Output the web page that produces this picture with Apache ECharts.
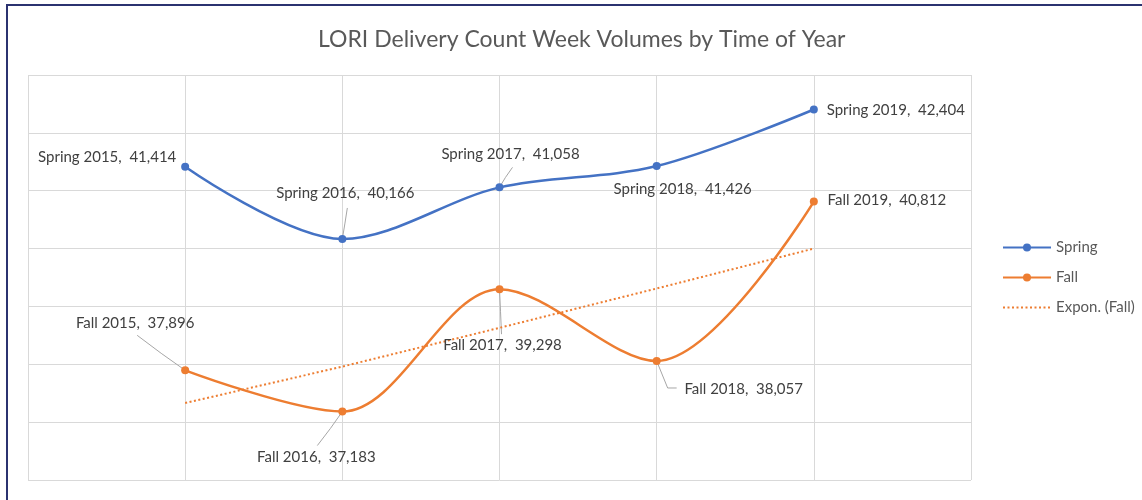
<!DOCTYPE html>
<html><head><meta charset="utf-8">
<script src="https://cdn.jsdelivr.net/npm/echarts@6/dist/echarts.min.js"></script>
<style>html,body{margin:0;padding:0;background:#fff}#c{width:1142px;height:500px}</style>
</head><body><div id="c"></div>
<script>
const titleText = 'LORI Delivery Count Week Volumes by Time of Year';
const years = ['2015', '2016', '2017', '2018', '2019'];
const xPositions = [1, 2, 3, 4, 5];
const springValues = [41414, 40166, 41058, 41426, 42404];
const fallValues = [37896, 37183, 39298, 38057, 40812];
const trendFallValues = [37330, 37960, 38630, 39310, 40000];
const yTicks = [36000, 37000, 38000, 39000, 40000, 41000, 42000, 43000];

// label center offsets from the point (px)
const springLabelOffsets = [[-78, -10], [3, -46], [11, -33], [26, 23], [82, 1]];
const fallLabelOffsets = [[-50, -47], [-26, 46], [3, 56], [87, 28], [73, -1]];
// leader line bend / end offsets from the point (px); null = no leader
const springLeaders = [null, [[2.5, -15], [5, -31]], [[6, -10], [13, -20]], null, null];
const fallLeaders = [[[-24, -17], [-48, -35]], [[-12, 17], [-25, 34]], [[1, 22], [2, 45]], [[11, 27], [20, 27]], null];

const FONT = 'Lato';
const fmt = v => v.toLocaleString('en-US');

function layoutFor(offs) {
  return function (p) {
    const o = offs[p.dataIndex];
    return {
      x: p.rect.x + p.rect.width / 2 + o[0],
      y: p.rect.y + p.rect.height / 2 + o[1],
      align: 'center',
      verticalAlign: 'middle'
    };
  };
}
function labelCfg(name) {
  return {
    show: true,
    color: '#404040',
    fontFamily: FONT,
    fontSize: 15,
    formatter: p => name + ' ' + years[p.dataIndex] + ',  ' + fmt(p.value[1])
  };
}
function leaderSeries(vals, leaders) {
  return {
    type: 'custom', silent: true, z: 2,
    data: vals.map((v, i) => [xPositions[i], v, i]),
    renderItem: function (params, api) {
      const L = leaders[api.value(2)];
      if (!L) return null;
      const p = api.coord([api.value(0), api.value(1)]);
      return {
        type: 'polyline',
        shape: { points: [p, [p[0] + L[0][0], p[1] + L[0][1]], [p[0] + L[1][0], p[1] + L[1][1]]] },
        style: { stroke: '#A6A6A6', lineWidth: 1, fill: null }
      };
    }
  };
}

const chart = echarts.init(document.getElementById('c'));
chart.setOption({
  animation: false,
  title: {
    text: titleText, left: 313, top: 23,
    textStyle: { color: '#595959', fontFamily: FONT, fontSize: 23, fontWeight: 'normal' }
  },
  grid: { left: 28, right: 171, top: 75, bottom: 20 },
  legend: {
    orient: 'vertical', left: 997, top: 235, itemWidth: 48, itemHeight: 10, itemGap: 15,
    textStyle: { color: '#595959', fontFamily: FONT, fontSize: 15 },
    data: ['Spring', 'Fall', { name: 'Expon. (Fall)', itemStyle: { opacity: 0 } }]
  },
  xAxis: {
    type: 'value', min: 0, max: 6, interval: 1,
    axisLine: { show: false }, axisTick: { show: false }, axisLabel: { show: false },
    splitLine: { show: true, lineStyle: { color: '#D9D9D9', width: 1 } }
  },
  yAxis: {
    type: 'value', min: yTicks[0], max: yTicks[yTicks.length - 1], interval: 1000,
    axisLine: { show: false }, axisTick: { show: false }, axisLabel: { show: false },
    splitLine: { show: true, lineStyle: { color: '#D9D9D9', width: 1 } }
  },
  graphic: [{
    type: 'rect', shape: { x: 7, y: 5, width: 1150, height: 520 },
    style: { fill: 'none', stroke: '#2B3270', lineWidth: 2 }, silent: true
  }],
  series: [
    {
      name: 'Spring', type: 'line', smooth: 0.33, symbol: 'circle', symbolSize: 8,
      itemStyle: { color: '#4472C4' }, lineStyle: { color: '#4472C4', width: 2.5 },
      data: springValues.map((v, i) => [xPositions[i], v]),
      label: labelCfg('Spring'),
      labelLayout: layoutFor(springLabelOffsets),
      z: 3
    },
    {
      name: 'Fall', type: 'line', smooth: 0.33, symbol: 'circle', symbolSize: 8,
      itemStyle: { color: '#ED7D31' }, lineStyle: { color: '#ED7D31', width: 2.5 },
      data: fallValues.map((v, i) => [xPositions[i], v]),
      label: labelCfg('Fall'),
      labelLayout: layoutFor(fallLabelOffsets),
      z: 3
    },
    {
      name: 'Expon. (Fall)', type: 'line', symbol: 'none', smooth: false,
      itemStyle: { color: '#ED7D31' },
      lineStyle: { color: '#ED7D31', width: 2, type: [2, 2.5] },
      data: trendFallValues.map((v, i) => [xPositions[i], v]),
      z: 2
    },
    leaderSeries(springValues, springLeaders),
    leaderSeries(fallValues, fallLeaders)
  ]
});
</script></body></html>
